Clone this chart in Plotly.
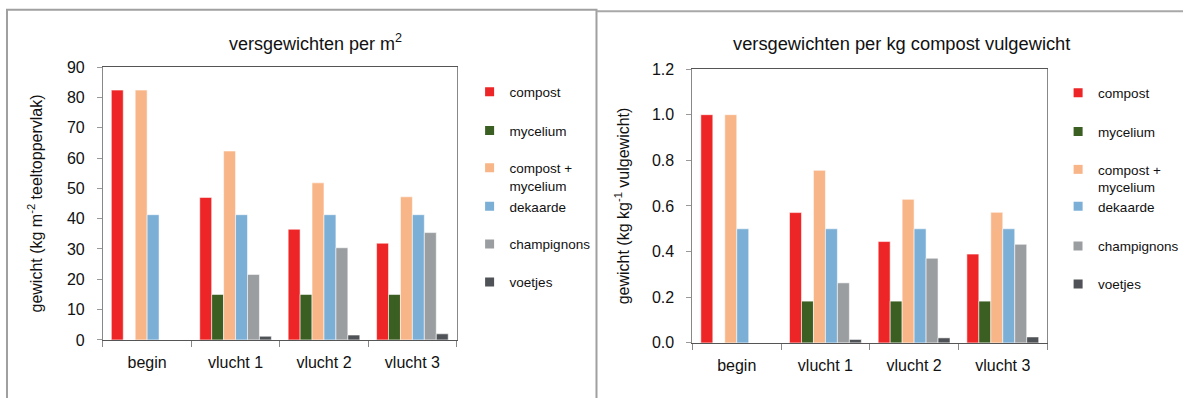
import plotly.graph_objects as go

# ---------------- data ----------------
categories = ["begin", "vlucht 1", "vlucht 2", "vlucht 3"]
series_names = ["compost", "mycelium", "compost +<br>mycelium", "dekaarde", "champignons", "voetjes"]
colors = ["#EE2526", "#3B5E22", "#F8B587", "#7BAFD6", "#9B9EA1", "#4F5256"]

# left chart: versgewichten per m2 (kg m-2 teeltoppervlak)
compost_m2 = [82.4, 47.0, 36.5, 31.9]
mycelium_m2 = [0, 15.0, 15.0, 15.0]
compost_mycelium_m2 = [82.4, 62.3, 51.8, 47.2]
dekaarde_m2 = [41.3, 41.3, 41.3, 41.3]
champignons_m2 = [0, 21.6, 30.4, 35.4]
voetjes_m2 = [0, 1.2, 1.6, 2.0]

# right chart: versgewichten per kg compost vulgewicht (kg kg-1)
compost_kg = [1.0, 0.571, 0.444, 0.389]
mycelium_kg = [0, 0.183, 0.183, 0.183]
compost_mycelium_kg = [1.0, 0.756, 0.629, 0.572]
dekaarde_kg = [0.50, 0.50, 0.50, 0.50]
champignons_kg = [0, 0.263, 0.371, 0.432]
voetjes_kg = [0, 0.015, 0.022, 0.026]

left_series = [compost_m2, mycelium_m2, compost_mycelium_m2, dekaarde_m2, champignons_m2, voetjes_m2]
right_series = [compost_kg, mycelium_kg, compost_mycelium_kg, dekaarde_kg, champignons_kg, voetjes_kg]

titles = ["versgewichten per m<sup>2</sup>", "versgewichten per kg compost vulgewicht"]
ytitles = ["gewicht (kg m<sup>-2</sup> teeltoppervlak)", "gewicht (kg kg<sup>-1</sup> vulgewicht)"]

# ---------------- layout helpers ----------------
W, H = 1184, 398
FONT = "Liberation Sans, Arial, Helvetica, sans-serif"
TXT = "#111111"

# the photographed page is compressed vertically (page ~414 px tall incl. 8 px margins);
# map a wanted on-screen pixel row to a figure pixel row
V_SCALE = 414 / 398
V_OFF = 8


def px(x):
    return x / W


def py(y):
    f = y * V_SCALE - V_OFF
    return 1 - f / H


fig = go.Figure()

legend_layouts = {}
legend_rows_left = [92, 131, 177.5, 207, 245, 283]
legend_rows_right = [93, 132, 179, 207, 247, 285]
legend_left_px = [470, 1059]

for panel, (series, rows) in enumerate([(left_series, legend_rows_left), (right_series, legend_rows_right)]):
    xa = "x" if panel == 0 else "x2"
    ya = "y" if panel == 0 else "y2"
    for i, (name, vals, col) in enumerate(zip(series_names, series, colors)):
        fig.add_trace(go.Bar(
            x=categories, y=vals, name=name.replace("<br>", " "),
            marker=dict(color=col, line=dict(color="rgba(255,255,255,0.55)", width=1)),
            xaxis=xa, yaxis=ya, showlegend=False,
        ))
        lg_index = panel * 6 + i + 1
        lg_key = "legend" if lg_index == 1 else f"legend{lg_index}"
        fig.add_trace(go.Scatter(
            x=[None], y=[None], mode="markers", name=name,
            marker=dict(symbol="square", size=9, color=col),
            xaxis=xa, yaxis=ya, showlegend=True, legend=lg_key,
        ))
        legend_layouts[lg_key] = dict(
            x=px(legend_left_px[panel]), xanchor="left",
            y=py(rows[i]), yanchor="middle",
            bgcolor="rgba(0,0,0,0)", borderwidth=0,
            font=dict(family=FONT, size=13.5, color=TXT),
            valign="top", itemsizing="trace", itemwidth=30,
        )

axis_common = dict(showgrid=False, zeroline=False, showline=True, mirror=True,
                   ticks="outside", tickfont=dict(family=FONT, size=16, color=TXT))

fig.update_layout(
    width=W, height=H, autosize=False,
    margin=dict(l=0, r=0, t=0, b=0),
    paper_bgcolor="white", plot_bgcolor="white",
    barmode="group", bargap=0.19, bargroupgap=0,
    font=dict(family=FONT, color=TXT),
    xaxis=dict(domain=[px(103), px(457)], anchor="y", type="category",
               categoryorder="array", categoryarray=categories,
               tickson="boundaries", ticklen=6, tickcolor="#888", linecolor="#555",
               ticklabelstandoff=8, **axis_common),
    yaxis=dict(domain=[py(341), py(67)], anchor="x", range=[0, 90], dtick=10,
               ticklen=5, tickcolor="#999", linecolor="#888", ticklabelstandoff=9,
               title=dict(text=ytitles[0], font=dict(family=FONT, size=16, color=TXT), standoff=20),
               **axis_common),
    xaxis2=dict(domain=[px(693), px(1048)], anchor="y2", type="category",
                categoryorder="array", categoryarray=categories,
                tickson="boundaries", ticklen=6, tickcolor="#888", linecolor="#555",
                ticklabelstandoff=8, **axis_common),
    yaxis2=dict(domain=[py(344), py(69)], anchor="x2", range=[0, 1.2], dtick=0.2,
                tickformat=".1f",
                ticklen=5, tickcolor="#999", linecolor="#888", ticklabelstandoff=9,
                title=dict(text=ytitles[1], font=dict(family=FONT, size=16, color=TXT), standoff=18),
                **axis_common),
    annotations=[
        dict(text=titles[0], x=px(316), y=py(42), xref="paper", yref="paper",
             xanchor="center", yanchor="middle", showarrow=False,
             font=dict(family=FONT, size=18, color=TXT)),
        dict(text=titles[1], x=px(902), y=py(43), xref="paper", yref="paper",
             xanchor="center", yanchor="middle", showarrow=False,
             font=dict(family=FONT, size=18.3, color=TXT)),
    ],
    shapes=[
        dict(type="path", xref="paper", yref="paper",
             path=f"M {px(7)},{py(420)} L {px(7)},{py(9.5)} L {px(597)},{py(9.5)} L {px(597)},{py(420)}",
             line=dict(color="#A0A0A0", width=2)),
        dict(type="line", xref="paper", yref="paper",
             x0=px(597), y0=py(11), x1=1, y1=py(11),
             line=dict(color="#A8A8A8", width=2)),
    ],
)
fig.update_layout(**legend_layouts)

fig.write_html("out.html")
